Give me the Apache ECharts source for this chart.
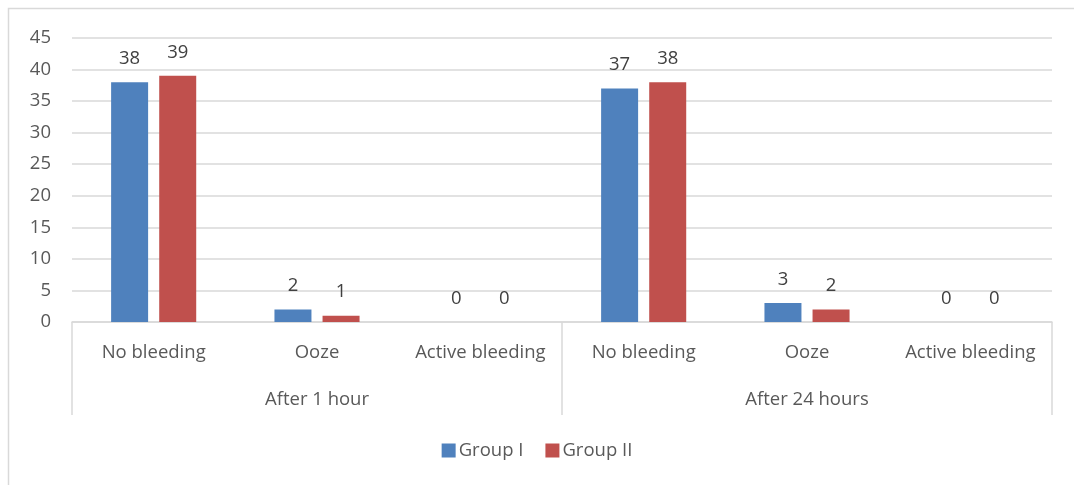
<!DOCTYPE html>
<html>
	<head>
		<meta charset="UTF-8">
		<title>bleeding</title>
		<script src="https://cdn.jsdelivr.net/npm/echarts@6/dist/echarts.min.js"></script>
		<style>
			html, body { margin: 0; padding: 0; background: #fff; }
			#chart { width: 1074px; height: 485px; }
		</style>
	</head>
	<body>
		<div id="chart"></div>
		<script>
			var categories = ['No bleeding', 'Ooze', 'Active bleeding', 'No bleeding', 'Ooze', 'Active bleeding'];
			var periods = ['After 1 hour', 'After 24 hours'];
			var groupI = [38, 2, 0, 37, 3, 0];
			var groupII = [39, 1, 0, 38, 2, 0];
			var yTicks = [0, 5, 10, 15, 20, 25, 30, 35, 40, 45];

			var font = '"Open Sans", "Noto Sans", sans-serif';
			var textColor = '#595959';
			var fs = 18.5;

			var myChart = echarts.init(document.getElementById('chart'));
			var option = {
				animation: false,
				textStyle: { fontFamily: font },
				color: ['#4F81BD', '#C0504D'],
				graphic: [{
					type: 'polyline',
					shape: { points: [[8.5, 490], [8.5, 8.5], [1080, 8.5]] },
					style: { stroke: '#d9d9d9', lineWidth: 1.5, fill: null }
				}],
				legend: {
					bottom: 20,
					left: 'center',
					itemWidth: 14,
					itemHeight: 14,
					itemGap: 22,
					icon: 'rect',
					textStyle: { fontSize: fs, color: textColor, fontFamily: font, padding: [0, 0, 0, -2] },
					data: ['Group I', 'Group II']
				},
				grid: { left: 72, right: 22, top: 38, bottom: 163 },
				xAxis: [{
					type: 'category',
					data: categories,
					axisLine: { lineStyle: { color: '#d9d9d9', width: 1.5 } },
					axisTick: { show: false },
					axisLabel: { fontSize: fs, color: textColor, margin: 21, interval: 0 }
				}, {
					type: 'category',
					position: 'bottom',
					data: periods,
					axisLine: { show: false },
					axisTick: { show: true, length: 93, lineStyle: { color: '#d9d9d9', width: 1.5 } },
					axisLabel: { fontSize: fs, color: textColor, margin: 68 }
				}],
				yAxis: {
					type: 'value',
					min: yTicks[0],
					max: yTicks[yTicks.length - 1],
					interval: 5,
					axisLine: { show: false },
					axisTick: { show: false },
					splitLine: { lineStyle: { color: '#d9d9d9', width: 1.5 } },
					axisLabel: { fontSize: fs, color: textColor, margin: 21 }
				},
				series: [{
					name: 'Group I',
					type: 'bar',
					xAxisIndex: 0,
					data: groupI,
					barWidth: 37,
					barGap: '30%',
					label: { show: true, position: 'top', fontSize: fs, color: '#404040', distance: 14 }
				}, {
					name: 'Group II',
					type: 'bar',
					xAxisIndex: 0,
					data: groupII,
					barWidth: 37,
					barGap: '30%',
					label: { show: true, position: 'top', fontSize: fs, color: '#404040', distance: 14 }
				}]
			};
			myChart.setOption(option);
		</script>
	</body>
</html>
